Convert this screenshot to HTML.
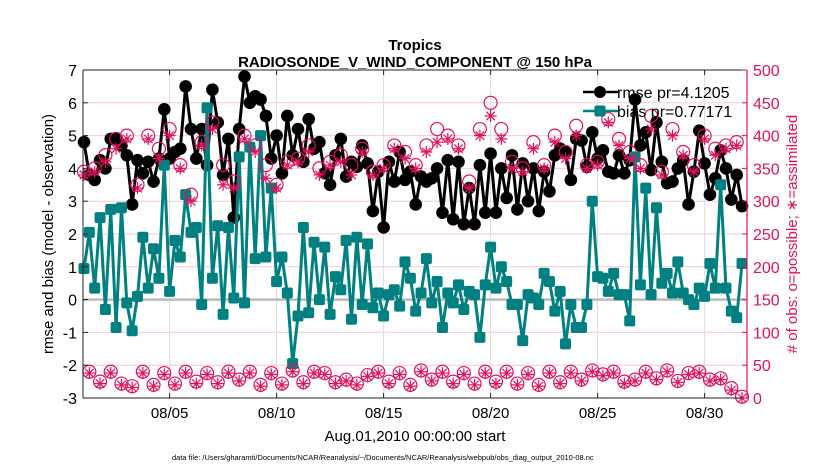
<!DOCTYPE html>
<html><head><meta charset="utf-8">
<style>
html,body{margin:0;padding:0;background:#fff;}
svg{display:block;font-family:"Liberation Sans",sans-serif;}
</style></head>
<body>
<svg id="chart" width="830" height="470" viewBox="0 0 830 470">
  <text x="415" y="50" text-anchor="middle" font-size="15" font-weight="bold">Tropics</text>
  <text x="415" y="67" text-anchor="middle" font-size="15" font-weight="bold">RADIOSONDE_V_WIND_COMPONENT @ 150 hPa</text>
  <text transform="translate(53,234) rotate(-90)" text-anchor="middle" font-size="15">rmse and bias (model - observation)</text>
  <text transform="translate(797,234) rotate(-90)" text-anchor="middle" font-size="15" fill="#e0115f"># of obs: o=possible; ∗=assimilated</text>
  <text x="415" y="441" text-anchor="middle" font-size="15">Aug.01,2010 00:00:00 start</text>
  <text x="172" y="460" font-size="7.5">data file: /Users/gharamti/Documents/NCAR/Reanalysis/~/Documents/NCAR/Reanalysis/webpub/obs_diag_output_2010-08.nc</text>
  <g id="grid"></g>
  <g id="plot"></g>
  <g id="axes"></g>
</svg>
<script>
const rmseValues = [4.8,3.8,3.65,4.25,4.0,4.9,4.9,4.7,4.4,2.9,4.25,3.85,4.2,3.6,4.3,5.8,4.3,4.5,4.6,6.5,5.2,4.3,5.2,4.1,6.4,5.4,3.8,4.9,2.5,5.2,6.8,6.0,
 6.2,6.1,5.6,4.3,5.0,3.85,5.6,4.4,5.2,4.2,5.5,4.6,4.8,3.85,3.5,4.4,4.9,3.75,4.2,4.05,4.7,4.15,2.7,3.9,2.2,4.2,3.6,4.5,3.65,
 3.9,2.9,3.75,3.6,3.7,4.0,2.65,4.25,2.45,4.2,2.3,3.4,2.3,4.1,2.65,4.45,2.65,4.0,3.1,4.4,2.75,4.15,3.0,4.0,2.7,3.9,3.3,4.4,4.6,4.5,3.65,4.9,
 4.85,4.05,5.1,4.3,4.55,3.9,3.85,4.4,3.85,4.25,6.1,4.7,5.1,3.95,5.4,4.2,3.55,3.6,4.0,4.25,2.9,3.9,5.15,4.15,3.2,3.7,4.55,4.0,3.05,3.8,2.85];
const biasValues = [0.95,2.05,0.35,2.5,-0.3,2.75,-0.85,2.8,-0.1,-0.95,0.1,1.9,0.35,1.55,0.65,4.1,0.25,1.8,1.3,3.2,2.05,2.2,-0.15,5.85,0.65,2.25,-0.45,2.2,0.05,4.35,-0.1,
 4.65,1.25,5.0,1.3,3.4,0.55,1.3,0.2,-1.95,-0.5,2.2,-0.4,1.75,0.0,1.6,-0.45,0.7,0.3,1.8,-0.6,1.9,-0.15,1.7,-0.25,0.2,-0.5,0.15,0.3,-0.2,1.15,0.65,
 -0.35,0.2,1.25,-0.1,0.55,-0.85,0.2,-0.1,0.45,-0.3,0.25,0.15,-1.15,0.45,1.6,0.35,1.0,0.55,-0.15,-0.15,-1.25,0.15,0.05,-0.15,0.8,0.55,-0.35,0.25,-1.35,-0.15,-0.85,
 -0.85,-0.15,3.0,0.7,0.65,0.25,0.8,0.15,0.15,-0.65,4.35,0.45,3.4,0.15,2.8,0.5,0.8,0.2,1.15,0.2,0.0,-0.15,0.35,0.1,1.1,0.35,3.5,0.35,-0.35,-0.55,1.1];
const possibleHigh = [345,350,370,395,400,325,400,380,410,355,310,390,420,355,330,400,385,355,325,360,365,385,350,360,370,355,380,345,355,385,375,355,385,410,400,385,330,410,450,410,360,350,390,355,400,375,415,355,360,425,395,375,355,430,345,410,375,355,400,380,385,390];
const assimHigh = [340,345,360,380,395,320,395,365,400,350,300,385,410,325,320,395,375,335,320,355,360,375,340,355,360,340,375,340,350,380,365,350,375,390,395,380,320,400,430,395,350,345,380,350,390,365,400,350,355,420,385,365,350,410,340,400,370,345,395,370,380,385];
const possibleLow = [40,25,40,22,18,40,20,38,22,40,25,38,24,40,28,40,20,38,22,42,24,40,38,24,28,22,35,40,25,38,20,42,28,40,25,38,22,40,25,40,22,38,20,40,24,40,28,42,36,40,25,28,40,30,42,26,38,40,28,30,15,2];
const assimLow = [38,22,38,20,16,38,18,36,20,38,22,36,22,38,26,38,18,36,20,40,22,38,36,22,26,20,33,38,22,36,18,40,26,38,22,36,20,38,22,38,20,36,18,38,22,38,26,40,34,38,22,26,38,28,40,24,36,38,26,28,12,0];
const xTickLabels = ["08/05","08/10","08/15","08/20","08/25","08/30"];
const xTickDays = [4,9,14,19,24,29];
const leftTicks = [-3,-2,-1,0,1,2,3,4,5,6,7];
const rightTicks = [0,50,100,150,200,250,300,350,400,450,500];

const NS="http://www.w3.org/2000/svg";
const L=83,R=747,T=70,B=398;
const xDay=d=>84+d*21.4;
const yL=v=>B-(v+3)*(B-T)/10;
const yR=v=>B-v*(B-T)/500;
const RED="#e0115f", TEAL="#008080";
function mk(tag,attrs,parent){const e=document.createElementNS(NS,tag);for(const k in attrs)e.setAttribute(k,attrs[k]);parent.appendChild(e);return e;}
const grid=document.getElementById('grid'),plot=document.getElementById('plot'),axes=document.getElementById('axes');

rightTicks.forEach(v=>{const g=mk('line',{x1:L,x2:R,y1:yR(v),y2:yR(v),stroke:'#f6c9da','stroke-width':1},grid);

});
xTickDays.forEach(d=>{const g=mk('line',{x1:xDay(d),x2:xDay(d),y1:T,y2:B,stroke:'#dddddd','stroke-width':1},grid);

});
const zl=mk('line',{x1:L,x2:R,y1:yL(0),y2:yL(0),stroke:'#bbbbbb','stroke-width':2.5},grid);



let pts=rmseValues.map((v,i)=>xDay(i*0.25)+','+yL(v)).join(' ');
const rl=mk('polyline',{points:pts,fill:'none',stroke:'#000','stroke-width':3},plot);


rmseValues.forEach((v,i)=>{const c=mk('circle',{cx:xDay(i*0.25),cy:yL(v),r:6.3,fill:'#000'},plot);

});
pts=biasValues.map((v,i)=>xDay(i*0.25)+','+yL(v)).join(' ');
const bl=mk('polyline',{points:pts,fill:'none',stroke:TEAL,'stroke-width':3},plot);


biasValues.forEach((v,i)=>{const s=mk('rect',{x:xDay(i*0.25)-5.5,y:yL(v)-5.5,width:11,height:11,rx:2,fill:TEAL},plot);

});

function star(x,y){const g=mk('g',{stroke:RED,'stroke-width':1.2},plot);


for(let k=0;k<4;k++){const a=k*Math.PI/4;mk('line',{x1:x-6*Math.cos(a),y1:y-6*Math.sin(a),x2:x+6*Math.cos(a),y2:y+6*Math.sin(a)},g);}}
function ring(x,y){const c=mk('circle',{cx:x,cy:y,r:6.5,fill:'none',stroke:RED,'stroke-width':1.2},plot);

}
possibleHigh.forEach((v,i)=>{const x=xDay(i*0.5);ring(x,yR(v));star(x,yR(assimHigh[i]));});
possibleLow.forEach((v,i)=>{const x=xDay(i*0.5+0.25);ring(x,yR(v));star(x,yR(assimLow[i]));});

const lg=mk('g',{},plot);


mk('line',{x1:583,x2:618,y1:92,y2:92,stroke:'#000','stroke-width':2.5},lg);
mk('circle',{cx:600,cy:92,r:6,fill:'#000'},lg);
const t1=mk('text',{x:617,y:98,'font-size':16},lg);t1.textContent='rmse pr=4.1205';


mk('line',{x1:583,x2:618,y1:111,y2:111,stroke:TEAL,'stroke-width':2.5},lg);
mk('rect',{x:594.5,y:105.5,width:11,height:11,rx:2,fill:TEAL},lg);
const t2=mk('text',{x:617,y:117,'font-size':16},lg);t2.textContent='bias pr=0.77171';



mk('line',{x1:L,x2:R,y1:T,y2:T,stroke:'#222','stroke-width':1},axes);
mk('line',{x1:L,x2:R,y1:B,y2:B,stroke:'#222','stroke-width':1},axes);
mk('line',{x1:L,x2:L,y1:T,y2:B,stroke:'#222','stroke-width':1},axes);
mk('line',{x1:R,x2:R,y1:T,y2:B,stroke:RED,'stroke-width':1.2},axes);
leftTicks.forEach(v=>{mk('line',{x1:L,x2:L+5,y1:yL(v),y2:yL(v),stroke:'#222'},axes);
const t=mk('text',{x:L-6,y:yL(v)+6,'text-anchor':'end','font-size':16},axes);t.textContent=v;

});
rightTicks.forEach(v=>{mk('line',{x1:R-5,x2:R,y1:yR(v),y2:yR(v),stroke:RED},axes);
const t=mk('text',{x:R+6,y:yR(v)+6,'font-size':16,fill:RED},axes);t.textContent=v;

});
xTickDays.forEach((d,i)=>{mk('line',{x1:xDay(d),x2:xDay(d),y1:B,y2:B-5,stroke:'#222'},axes);
mk('line',{x1:xDay(d),x2:xDay(d),y1:T,y2:T+5,stroke:'#222'},axes);
const t=mk('text',{x:xDay(d),y:B+20,'text-anchor':'middle','font-size':15},axes);t.textContent=xTickLabels[i];

});
</script>
</body></html>
